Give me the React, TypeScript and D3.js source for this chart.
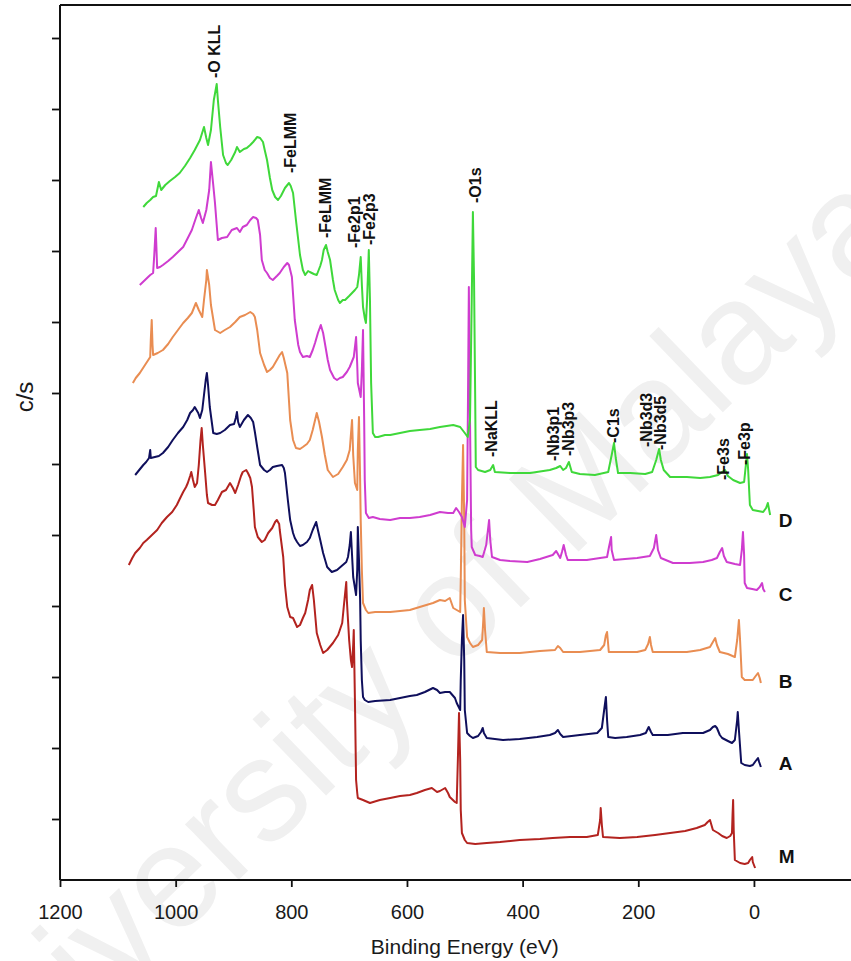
import { useEffect, useRef } from "react";
import { axisBottom, axisLeft, line, scaleLinear, select } from "d3";

const energyTicks = [1200, 1000, 800, 600, 400, 200, 0];
const countTicks = [61, 132, 203, 274, 345, 416, 487, 558, 629, 700, 771, 842];

// [binding energy (eV), c/s (x100, stacked)]
const spectrumM = [
  [1081, 315], [1075, 322], [1070, 327], [1062, 332], [1056, 337], [1050, 340], [1041, 345], [1032, 350],
  [1024, 357], [1015, 363], [1006, 368], [998, 375], [993, 381], [987, 388], [982, 393], [979, 397],
  [975, 404], [973, 408], [970, 400], [967, 393], [963, 397], [960, 415], [957, 440], [955, 452],
  [953, 435], [949, 407], [946, 385], [944, 377], [937, 375], [932, 375], [927, 380], [920, 388],
  [913, 390], [906, 397], [901, 392], [897, 387], [892, 395], [887, 404], [884, 408], [878, 410],
  [875, 407], [871, 402], [868, 393], [865, 370], [863, 353], [858, 343], [851, 338], [846, 340],
  [840, 347], [833, 352], [828, 358], [825, 360], [821, 356], [820, 350], [814, 323], [811, 295],
  [807, 273], [802, 263], [797, 262], [790, 253], [785, 255], [780, 262], [776, 267], [771, 280],
  [768, 290], [764, 295], [761, 280], [756, 247], [750, 235], [745, 227], [738, 230], [728, 237],
  [719, 245], [712, 257], [709, 275], [705, 298], [704, 280], [700, 240], [697, 220], [695, 213],
  [693, 235], [692, 250], [690, 180], [688, 100], [686, 87], [685, 82], [676, 80], [664, 77],
  [647, 80], [629, 82], [612, 84], [595, 85], [583, 87], [569, 90], [557, 92], [548, 88],
  [543, 89], [534, 92], [529, 87], [526, 83], [517, 78], [514, 77], [512, 120], [510, 167],
  [508, 120], [507, 70], [505, 47], [500, 40], [496, 37], [482, 36], [462, 37], [439, 38],
  [405, 40], [370, 41], [348, 42], [318, 43], [289, 43], [270, 45], [266, 60], [265, 72],
  [263, 55], [261, 43], [232, 42], [202, 43], [171, 45], [145, 47], [119, 49], [99, 52],
  [85, 55], [80, 58], [76, 60], [73, 54], [71, 50], [62, 47], [55, 44], [47, 42],
  [41, 44], [38, 47], [37, 65], [36, 80], [35, 50], [33, 20], [24, 17], [16, 16],
  [10, 17], [7, 20], [3, 23], [2, 18], [-2, 12],
];

const spectrumA = [
  [1070, 405], [1063, 410], [1056, 415], [1051, 418], [1046, 422], [1044, 430], [1043, 422], [1036, 423],
  [1029, 424], [1022, 427], [1013, 433], [1005, 440], [996, 447], [987, 453], [980, 460], [975, 467],
  [970, 470], [967, 473], [961, 467], [958, 462], [954, 470], [951, 485], [948, 500], [946, 507],
  [944, 495], [941, 473], [935, 447], [929, 446], [923, 447], [915, 450], [906, 455], [899, 456],
  [896, 462], [894, 468], [892, 458], [889, 453], [882, 460], [875, 465], [870, 462], [866, 458],
  [863, 448], [859, 433], [854, 415], [847, 410], [842, 408], [837, 410], [832, 413], [825, 414],
  [816, 415], [813, 412], [811, 407], [806, 380], [802, 360], [797, 347], [794, 342], [790, 338],
  [785, 334], [780, 335], [773, 338], [768, 342], [763, 350], [757, 358], [754, 350], [750, 340],
  [745, 327], [738, 313], [730, 308], [721, 310], [711, 315], [705, 318], [702, 323], [699, 335],
  [697, 348], [695, 325], [693, 303], [688, 285], [686, 310], [685, 353], [683, 320], [681, 280],
  [680, 240], [678, 200], [676, 183], [673, 180], [667, 178], [655, 179], [629, 180], [612, 182],
  [595, 184], [583, 185], [569, 188], [555, 192], [548, 190], [543, 187], [534, 188], [526, 188],
  [517, 182], [514, 177], [508, 170], [507, 200], [505, 240], [503, 265], [501, 220], [500, 170],
  [496, 147], [491, 144], [486, 142], [477, 144], [472, 148], [469, 152], [467, 147], [462, 142],
  [434, 140], [405, 141], [375, 143], [353, 145], [344, 147], [339, 150], [335, 146], [330, 143],
  [301, 145], [271, 147], [263, 152], [259, 170], [256, 183], [254, 160], [252, 143], [240, 142],
  [220, 143], [197, 145], [187, 147], [182, 153], [178, 148], [175, 145], [149, 145], [123, 147],
  [102, 147], [88, 147], [76, 150], [71, 153], [67, 154], [64, 152], [59, 145], [55, 142],
  [45, 139], [38, 137], [33, 140], [29, 160], [28, 168], [26, 150], [22, 117], [16, 115],
  [7, 114], [2, 115], [-3, 119], [-7, 122], [-9, 118], [-12, 113],
];

const spectrumB = [
  [1074, 497], [1069, 502], [1062, 507], [1053, 515], [1044, 523], [1043, 540], [1041.4, 560], [1040, 535],
  [1039, 525], [1031, 527], [1022, 530], [1013, 536], [1005, 543], [996, 550], [987, 557], [979, 562],
  [972, 567], [965, 577], [960, 570], [954, 563], [951, 580], [947, 600], [946, 610], [942, 595],
  [939, 575], [932, 550], [923, 547], [915, 550], [906, 553], [897, 558], [889, 563], [880, 565],
  [871, 568], [866, 566], [863, 563], [859, 550], [854, 527], [847, 515], [842, 508], [837, 510],
  [832, 513], [825, 520], [820, 525], [816, 528], [813, 522], [807, 507], [802, 460], [797, 440],
  [792, 432], [785, 431], [780, 433], [773, 436], [768, 440], [763, 450], [756, 467], [752, 458],
  [747, 443], [742, 425], [737, 410], [728, 403], [719, 406], [711, 413], [704, 420], [699, 430],
  [697, 445], [695, 460], [693, 425], [690, 397], [686, 390], [685, 430], [683, 463], [681, 400],
  [680, 360], [678, 310], [676, 277], [671, 270], [667, 267], [655, 268], [629, 268], [612, 269],
  [595, 270], [578, 273], [555, 277], [543, 280], [534, 279], [526, 282], [520, 272], [514, 270],
  [508, 268], [507, 300], [505, 380], [503, 435], [501, 360], [500, 280], [496, 243], [491, 237],
  [486, 233], [477, 235], [470, 240], [468, 260], [467, 272], [465, 250], [462, 228], [439, 227],
  [405, 227], [370, 229], [344, 230], [339, 234], [335, 232], [330, 228], [301, 228], [266, 230],
  [259, 235], [256, 245], [254, 248], [252, 235], [251, 228], [232, 228], [202, 228], [188, 230],
  [183, 236], [180, 243], [178, 235], [175, 228], [145, 228], [116, 228], [93, 230], [76, 233],
  [71, 238], [67, 242], [64, 235], [59, 228], [45, 226], [33, 223], [29, 240], [26, 260],
  [24, 240], [21, 203], [16, 200], [7, 200], [2, 200], [-3, 204], [-7, 207], [-10, 202],
  [-12, 197],
];

const spectrumC = [
  [1062, 595], [1053, 600], [1044, 605], [1039, 607], [1037, 625], [1034.5, 652], [1032, 612], [1027, 613],
  [1022, 615], [1013, 619], [1005, 623], [996, 628], [987, 633], [979, 642], [972, 650], [965, 662],
  [960, 670], [956, 662], [953, 657], [947, 670], [942, 690], [939, 718], [935, 695], [932, 677],
  [927, 640], [920, 642], [911, 643], [903, 650], [894, 652], [889, 648], [884, 653], [877, 655],
  [871, 660], [866, 663], [861, 662], [858, 660], [854, 645], [851, 620], [846, 610], [842, 607],
  [837, 602], [832, 600], [825, 604], [820, 607], [813, 613], [807, 617], [804, 615], [799, 603],
  [794, 560], [788, 535], [785, 528], [780, 523], [773, 524], [768, 523], [763, 530], [759, 537],
  [754, 547], [749, 555], [745, 547], [742, 537], [737, 520], [733, 510], [726, 502], [721, 500],
  [716, 502], [711, 503], [704, 508], [699, 513], [692, 523], [688, 543], [686, 515], [685, 497],
  [680, 483], [678, 510], [676, 550], [674, 460], [673, 400], [671, 367], [666, 362], [659, 363],
  [647, 361], [629, 360], [612, 362], [595, 362], [578, 363], [560, 365], [543, 368], [529, 367],
  [520, 367], [515, 372], [510, 368], [505, 363], [500, 353], [496, 380], [494.5, 480], [493, 593],
  [491, 460], [489, 350], [488, 333], [482, 325], [474, 324], [469, 323], [463, 335], [458, 360],
  [456, 340], [453, 323], [439, 320], [422, 319], [392, 318], [370, 321], [348, 325], [342, 329],
  [335, 322], [332, 328], [329, 335], [325, 325], [322, 320], [289, 320], [266, 322], [254, 323],
  [251, 332], [247, 343], [246, 330], [242, 320], [223, 321], [202, 322], [180, 324], [173, 332],
  [169, 345], [166, 330], [161, 322], [140, 317], [111, 317], [88, 318], [73, 320], [64, 322],
  [59, 328], [55, 332], [52, 324], [47, 318], [33, 316], [24, 315], [21, 330], [19, 348],
  [17, 325], [16, 297], [12, 292], [3, 291], [-5, 290], [-10, 293], [-14, 297], [-16, 291],
  [-19, 288],
];

const spectrumD = [
  [1056, 673], [1050, 677], [1044, 680], [1039, 683], [1034, 684], [1029, 698], [1025, 690], [1018, 695],
  [1010, 699], [1001, 703], [993, 707], [984, 714], [975, 722], [967, 730], [958, 740], [951, 753],
  [947, 742], [944, 735], [939, 750], [934, 780], [929, 796], [927, 780], [923, 753], [918, 725],
  [913, 717], [910, 715], [904, 720], [897, 728], [894, 733], [889, 728], [882, 731], [877, 732],
  [871, 735], [866, 738], [859, 743], [854, 742], [849, 738], [846, 730], [842, 720], [837, 702],
  [833, 690], [828, 683], [823, 680], [818, 684], [811, 692], [804, 697], [801, 694], [797, 687],
  [792, 660], [785, 625], [780, 610], [776, 605], [771, 609], [768, 608], [761, 606], [756, 605],
  [750, 614], [747, 620], [744, 630], [740, 635], [737, 628], [733, 620], [728, 600], [725, 590],
  [719, 580], [716, 577], [711, 580], [707, 580], [700, 584], [695, 587], [690, 590], [686, 593],
  [683, 605], [680, 623], [678, 595], [676, 573], [673, 562], [671, 557], [669, 580], [666, 630],
  [664, 580], [662, 497], [659, 447], [655, 443], [650, 443], [638, 445], [629, 445], [612, 447],
  [595, 449], [578, 450], [560, 451], [543, 453], [520, 455], [508, 453], [500, 447], [495, 443],
  [491, 460], [488, 580], [486, 668], [484, 600], [482, 480], [481, 413], [477, 410], [465, 408],
  [456, 410], [451, 415], [448, 408], [422, 407], [387, 407], [353, 410], [342, 412], [335, 414],
  [330, 410], [325, 412], [320, 418], [315, 408], [301, 406], [275, 405], [252, 408], [246, 425],
  [242, 437], [239, 422], [235, 407], [214, 407], [188, 406], [176, 408], [169, 420], [164, 431],
  [161, 420], [156, 410], [145, 403], [116, 403], [93, 402], [76, 403], [62, 405], [55, 408],
  [50, 410], [45, 404], [36, 400], [24, 397], [17, 398], [14, 415], [12, 426], [10, 410],
  [7, 375], [2, 370], [-7, 369], [-16, 368], [-21, 372], [-24, 377], [-26, 371], [-28, 365],
];

const seriesNames = ["M", "A", "B", "C", "D"];
const seriesColors = ["#b3231f", "#0f0f5c", "#e98d52", "#cf3ccf", "#3fd83a"];
const seriesData = [spectrumM, spectrumA, spectrumB, spectrumC, spectrumD];
// where each series name sits: [binding energy, c/s]
const seriesLabelAt = [[-43, 17], [-43, 110], [-43, 192], [-43, 279], [-43, 353]];

// peak assignments: [text, binding energy, c/s where the label starts]
const peakLabels = [
  ["-O KLL", 923, 802],
  ["-FeLMM", 792, 707],
  ["-FeLMM", 731, 642],
  ["-Fe2p1", 681, 632],
  ["-Fe2p3", 656, 635],
  ["-O1s", 472, 677],
  ["-NaKLL", 444, 423],
  ["-Nb3p1", 337, 419],
  ["-Nb3p3", 311, 424],
  ["-C1s", 233, 437],
  ["-Nb3d3", 176, 433],
  ["-Nb3d5", 152, 430],
  ["-Fe3s", 43, 400],
  ["-Fe3p", 7, 415],
];

const FONT = "'Liberation Sans', Arial, Helvetica, sans-serif";

export default function App() {
  const ref = useRef<SVGSVGElement>(null);
  const width = 851;
  const height = 961;

  useEffect(() => {
    document.body.style.margin = "0";
    const svg = select(ref.current);
    svg.selectAll("*").remove();

    const x = scaleLinear().domain([1200, -200]).range([60, 869.6]);
    const y = scaleLinear().domain([0, 875]).range([880, 5]);

    // watermark
    svg
      .append("text")
      .attr("transform", "translate(-37,1146) rotate(-44)")
      .attr("font-family", FONT)
      .attr("font-size", 146)
      .attr("fill", "#f0f0f0")
      .text("University of Malaya");

    const xAxis = svg
      .append("g")
      .attr("transform", `translate(0, ${y(0)})`)
      .call(
        axisBottom(x)
          .tickValues(energyTicks)
          .tickSize(7)
          .tickPadding(18)
          .tickFormat((d) => String(d))
      );
    xAxis.select(".domain").remove();
    xAxis.selectAll("line").attr("stroke", "#111").attr("stroke-width", 1.8);
    xAxis
      .selectAll("text")
      .attr("font-family", FONT)
      .attr("font-size", 20)
      .attr("fill", "#1a1a1a");

    const yAxis = svg
      .append("g")
      .attr("transform", `translate(${x(1200)}, 0)`)
      .call(axisLeft(y).tickValues(countTicks).tickSize(8).tickFormat(() => ""));
    yAxis.select(".domain").remove();
    yAxis.selectAll("line").attr("stroke", "#111").attr("stroke-width", 1.8);

    // frame
    const frame = svg.append("g").attr("stroke", "#111").attr("stroke-width", 2).attr("fill", "none");
    frame.append("line").attr("x1", x(1200)).attr("x2", x(-200)).attr("y1", y(0)).attr("y2", y(0));
    frame.append("line").attr("x1", x(1200)).attr("x2", x(-200)).attr("y1", y(875)).attr("y2", y(875));
    frame.append("line").attr("x1", x(1200)).attr("x2", x(1200)).attr("y1", y(0)).attr("y2", y(875));

    const path = line<number[]>()
      .x((d) => x(d[0]))
      .y((d) => y(d[1]));

    seriesData.forEach((data, i) => {
      svg
        .append("path")
        .attr("d", path(data))
        .attr("fill", "none")
        .attr("stroke", seriesColors[i])
        .attr("stroke-width", 2)
        .attr("stroke-linejoin", "round");
    });

    seriesLabelAt.forEach((p, i) => {
      svg
        .append("text")
        .attr("x", x(p[0]))
        .attr("y", y(p[1]))
        .attr("font-family", FONT)
        .attr("font-weight", "bold")
        .attr("font-size", 19)
        .attr("fill", "#111")
        .text(seriesNames[i]);
    });

    peakLabels.forEach(([txt, be, v]) => {
      svg
        .append("text")
        .attr("transform", `translate(${x(be as number)}, ${y(v as number)}) rotate(-90)`)
        .attr("font-family", FONT)
        .attr("font-weight", "bold")
        .attr("font-size", 16)
        .attr("fill", "#111")
        .text(txt as string);
    });

    svg
      .append("text")
      .attr("transform", "translate(33, 397) rotate(-90)")
      .attr("text-anchor", "middle")
      .attr("font-family", FONT)
      .attr("font-size", 24)
      .attr("fill", "#1a1a1a")
      .text("c/s");

    svg
      .append("text")
      .attr("x", x(500))
      .attr("y", 954)
      .attr("text-anchor", "middle")
      .attr("font-family", FONT)
      .attr("font-size", 21)
      .attr("fill", "#1a1a1a")
      .text("Binding Energy (eV)");
  }, []);

  return (
    <svg
      ref={ref}
      width={width}
      height={height}
      style={{ display: "block", background: "#fff" }}
    />
  );
}
